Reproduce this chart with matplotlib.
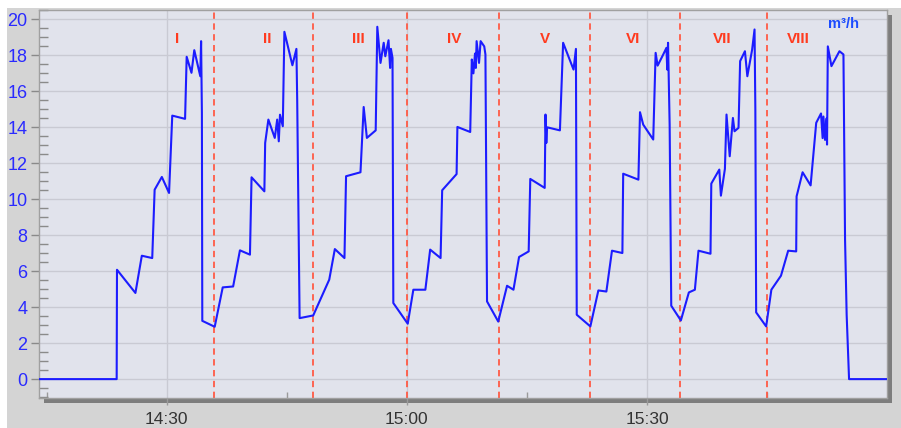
import matplotlib.pyplot as plt
from matplotlib.patches import Rectangle
from matplotlib.ticker import MultipleLocator, FuncFormatter

# minutes after 14:00
minutes = [
    14.1, 23.76, 23.8, 26.1, 26.9, 28.2, 28.5, 29.4, 30.3, 30.7, 32.3, 32.5, 33.1, 33.45, 34.2, 34.3, 34.4, 34.45, 36.0,
    37.0, 38.3, 39.15, 40.4, 40.6, 42.2, 42.3, 42.7, 43.5, 43.8, 44.0, 44.15, 44.5, 44.7, 45.7, 46.2, 46.3, 46.6, 48.3,
    50.3, 51.0, 52.2, 52.4, 54.2, 54.6, 55.0, 56.1, 56.3, 56.7, 57.1, 57.3, 57.7, 57.9, 58.0, 58.2, 58.3, 60.1,
    60.8, 62.3, 62.9, 64.2, 64.4, 66.2, 66.3, 67.9, 68.1, 68.3, 68.5, 68.6, 68.7, 69.0, 69.2, 69.65, 69.8, 70.0, 71.4,
    72.5, 73.3, 74.0, 75.2, 75.4, 77.2, 77.3, 77.4, 77.5, 79.1, 79.5, 80.8, 81.1, 81.2, 82.9,
    83.9, 84.9, 85.6, 86.9, 87.0, 88.9, 89.1, 89.5, 90.75, 91.05, 91.3, 92.0, 92.4, 92.5, 92.6, 92.8, 93.0, 94.2,
    95.2, 95.95, 96.4, 97.9, 98.0, 99.0, 99.2, 99.7, 99.9, 100.3, 100.7, 100.9, 101.4, 101.6, 102.2, 102.5, 103.1,
    103.4, 103.5, 103.6, 104.85,
    105.5, 106.7, 107.6, 108.6, 108.65, 109.4, 110.4, 111.1, 111.7, 111.9, 112.0, 112.2, 112.4, 112.45, 112.55,
    113.0, 114.0, 114.5, 114.55, 114.7, 114.9, 115.2, 120.0,
]
flow = [
    0, 0, 6.08, 4.79, 6.86, 6.73, 10.53, 11.24, 10.35, 14.65, 14.47, 17.92, 17.03, 18.29, 16.84, 18.79, 14.8, 3.24, 2.91,
    5.1, 5.15, 7.16, 6.92, 11.22, 10.44, 13.13, 14.43, 13.41, 14.43, 13.22, 14.7, 14.06, 19.31, 17.45, 18.36, 15.5, 3.39, 3.54,
    5.53, 7.23, 6.73, 11.28, 11.5, 15.13, 13.41, 13.83, 19.59, 17.58, 18.7, 17.95, 18.84, 17.3, 18.36, 17.86, 4.23, 3.08,
    4.97, 4.97, 7.2, 6.73, 10.5, 11.4, 14.02, 13.74, 17.77, 17.0, 18.1, 17.3, 18.79, 17.58, 18.79, 18.5, 18.05, 4.32, 3.2,
    5.19, 4.97, 6.79, 7.1, 11.13, 10.63, 14.71, 13.13, 14.0, 13.83, 18.7, 17.21, 18.36, 3.58, 2.93,
    4.93, 4.87, 7.14, 7.01, 11.42, 11.09, 14.84, 14.15, 13.32, 18.14, 17.43, 18.05, 18.42, 17.21, 18.7, 14.15, 4.08, 3.26,
    4.82, 4.97, 7.14, 6.97, 10.87, 11.65, 10.2, 11.69, 14.71, 12.39, 14.52, 13.78, 13.97, 17.68, 18.23, 16.84, 18.32,
    19.44, 15.0, 3.71, 2.93,
    4.97, 5.75, 7.14, 7.1, 10.16, 11.5, 10.77, 14.25, 14.77, 13.4, 14.6, 13.3, 14.5, 13.04, 18.5,
    17.4, 18.23, 18.05, 15.54, 7.75, 3.58, 0, 0,
]

cycle_bounds = [35.94, 48.3, 60.0, 71.5, 82.9, 94.1, 104.9]
cycle_labels = ["I", "II", "III", "IV", "V", "VI", "VII", "VIII"]
label_x = [31.25, 42.6, 53.9, 65.9, 77.2, 88.2, 99.3, 108.9]

W, H = 901, 428
fig = plt.figure(figsize=(W / 100, H / 100), dpi=100)
fig.patch.set_facecolor("white")
plt.rcParams["font.family"] = ["Liberation Sans", "DejaVu Sans"]

# grey panel and drop shadow behind the plot area
ax_l, ax_r, ax_t, ax_b = 39.3, 886.7, 9.5, 398.0
fig.patches.append(Rectangle((7 / W, 0), 1, (H - 8) / H, transform=fig.transFigure,
                             facecolor="#d4d4d4", edgecolor="none", zorder=-3))
fig.patches.append(Rectangle(((ax_l + 5) / W, (H - ax_b - 5) / H), (ax_r - ax_l) / W, (ax_b - ax_t) / H,
                             transform=fig.transFigure, facecolor="#7d7d7d", edgecolor="none", zorder=-2))

ax = fig.add_axes([ax_l / W, (H - ax_b) / H, (ax_r - ax_l) / W, (ax_b - ax_t) / H])
ax.set_facecolor("#e1e3ec")

ax.plot(minutes, flow, color="#1c1cff", linewidth=1.5, zorder=3)

for xb in cycle_bounds:
    ax.axvline(xb, color="#ff5a45", linestyle=(0, (3.5, 2.5)), linewidth=1.3, zorder=2)

for lx, lab in zip(label_x, cycle_labels):
    ax.text(lx, 18.9, lab, color="#ff3b1f", fontsize=11, fontweight="bold", ha="center", va="center")

ax.text(114.5, 19.75, "m³/h", color="#1c4cff", fontsize=10.5, fontweight="bold", ha="center", va="center")

ax.set_xlim(14.1, 119.9)
ax.set_ylim(-1.05, 20.55)

ax.yaxis.set_major_locator(MultipleLocator(2))
ax.yaxis.set_minor_locator(MultipleLocator(0.5))
ax.xaxis.set_major_locator(MultipleLocator(30))
ax.xaxis.set_minor_locator(MultipleLocator(15))
ax.xaxis.set_major_formatter(FuncFormatter(lambda v, p: f"{14 + int(v) // 60}:{int(v) % 60:02d}"))

ax.tick_params(axis="y", which="major", direction="out", length=5.5, width=1, color="#8a8a8a",
               labelsize=13, labelcolor="#2a2aff", pad=3)
ax.tick_params(axis="y", which="minor", direction="in", length=6.5, width=1, color="#8a8a8a")
ax.tick_params(axis="x", which="major", direction="out", length=5, width=1, color="#9a9a9a",
               labelsize=12.5, labelcolor="#333333", pad=5)
ax.tick_params(axis="x", which="minor", direction="in", length=4, width=1, color="#9a9a9a")

ax.grid(True, which="major", color="#c9cad3", linewidth=1.0, zorder=0)
ax.set_axisbelow(True)

for side in ["top", "left", "right", "bottom"]:
    ax.spines[side].set_color("#a0a0a0")
    ax.spines[side].set_linewidth(1.0)

fig.savefig("out.png", dpi=100, facecolor=fig.get_facecolor())
